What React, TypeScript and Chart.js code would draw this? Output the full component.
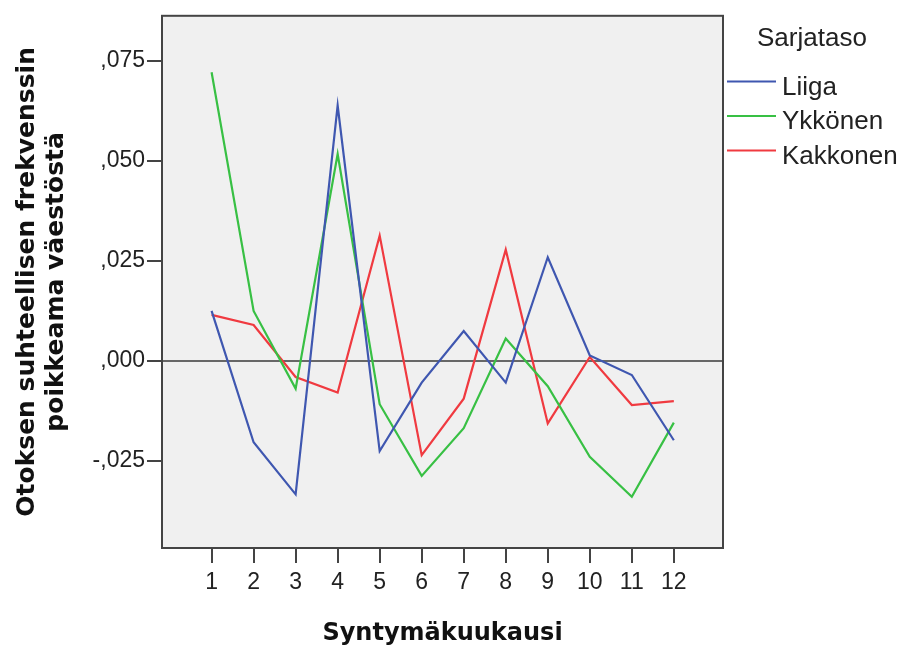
import React, { useEffect, useRef } from "react";
import { Chart, registerables } from "chart.js";

Chart.register(...registerables);

const months = [1, 2, 3, 4, 5, 6, 7, 8, 9, 10, 11, 12];
const liiga = [0.0125, -0.0203, -0.0333, 0.0638, -0.0225, -0.0054, 0.0075, -0.0054, 0.0259, 0.0014, -0.0035, -0.0198];
const ykkonen = [0.0721, 0.0125, -0.0069, 0.0517, -0.0108, -0.0287, -0.0168, 0.0056, -0.0063, -0.0239, -0.0339, -0.0154];
const kakkonen = [0.0115, 0.009, -0.004, -0.0079, 0.0313, -0.0235, -0.0094, 0.0278, -0.0156, 0.001, -0.011, -0.01];
const seriesNames = ["Liiga", "Ykkönen", "Kakkonen"];
const seriesColors = ["#3f57b0", "#38c044", "#f03a40"];
const yTickValues = [-0.025, 0, 0.025, 0.05, 0.075];
const yTickLabels = ["-,025", ",000", ",025", ",050", ",075"];
const legendTitle = "Sarjataso";
const xTitle = "Syntymäkuukausi";
const yTitle = ["Otoksen suhteellisen frekvenssin", "poikkeama väestöstä"];

export default function App() {
  const ref = useRef<HTMLCanvasElement | null>(null);

  useEffect(() => {
    if (!ref.current) return;
    const seriesValues = [liiga, ykkonen, kakkonen];

    const bgPlugin = {
      id: "bgPlugin",
      beforeDraw(chart: any) {
        const { ctx, chartArea: a } = chart;
        ctx.save();
        ctx.fillStyle = "#ffffff";
        ctx.fillRect(0, 0, chart.width, chart.height);
        ctx.fillStyle = "#f0f0f0";
        ctx.fillRect(a.left, a.top, a.right - a.left, a.bottom - a.top);
        ctx.restore();
      },
      beforeDatasetsDraw(chart: any) {
        const { ctx, chartArea: a } = chart;
        const y0 = chart.scales.y.getPixelForValue(0);
        ctx.save();
        ctx.strokeStyle = "#3a3a3a";
        ctx.lineWidth = 1.5;
        ctx.beginPath();
        ctx.moveTo(a.left, y0);
        ctx.lineTo(a.right, y0);
        ctx.stroke();
        ctx.strokeStyle = "#444444";
        ctx.lineWidth = 2;
        ctx.strokeRect(a.left, a.top, a.right - a.left, a.bottom - a.top);
        ctx.restore();
      },
    };

    const legendPlugin = {
      id: "customLegend",
      afterDraw(chart: any) {
        const { ctx } = chart;
        ctx.save();
        ctx.font = '26px "Liberation Sans", Arial, sans-serif';
        ctx.fillStyle = "#222222";
        ctx.textBaseline = "middle";
        ctx.textAlign = "left";
        ctx.fillText(legendTitle, 757, 39);
        seriesNames.forEach((name, i) => {
          const ly = 81.5 + i * 34.5;
          ctx.strokeStyle = seriesColors[i];
          ctx.lineWidth = 2;
          ctx.beginPath();
          ctx.moveTo(727, ly);
          ctx.lineTo(776, ly);
          ctx.stroke();
          ctx.fillStyle = "#222222";
          ctx.fillText(name, 782, ly + 6);
        });
        ctx.restore();
      },
    };

    const chart = new Chart(ref.current, {
      type: "line",
      data: {
        datasets: seriesNames.map((name, i) => ({
          label: name,
          data: months.map((m, j) => ({ x: m, y: seriesValues[i][j] })),
          borderColor: seriesColors[i],
          backgroundColor: seriesColors[i],
          borderWidth: 2.2,
          pointRadius: 0,
          tension: 0,
          fill: false,
        })),
      },
      options: {
        animation: false,
        responsive: false,
        devicePixelRatio: 1,
        layout: { padding: { top: 12, right: 180, left: 0, bottom: 0 } },
        plugins: { legend: { display: false }, tooltip: { enabled: false } },
        scales: {
          x: {
            type: "linear",
            min: -0.18,
            max: 13.17,
            afterBuildTicks: (scale: any) => {
              scale.ticks = months.map((v) => ({ value: v }));
            },
            afterFit: (scale: any) => {
              scale.height = 102;
            },
            ticks: {
              autoSkip: false,
              maxRotation: 0,
              padding: 6,
              color: "#222222",
              font: { family: "Liberation Sans", size: 23 },
              callback: (v: any) => String(v),
            },
            grid: {
              display: true,
              drawOnChartArea: false,
              drawTicks: true,
              tickLength: 15,
              color: "#444444",
              lineWidth: 2,
            },
            border: { display: false },
            title: {
              display: true,
              text: xTitle,
              color: "#111111",
              font: { family: "DejaVu Sans", size: 24, weight: "bold" },
              padding: { top: 0, bottom: 2 },
            },
          },
          y: {
            type: "linear",
            min: -0.0467,
            max: 0.0862,
            afterBuildTicks: (scale: any) => {
              scale.ticks = yTickValues.map((v) => ({ value: v }));
            },
            afterFit: (scale: any) => {
              scale.width = 162;
            },
            ticks: {
              autoSkip: false,
              padding: 2,
              color: "#222222",
              font: { family: "Liberation Sans", size: 23 },
              callback: (v: any) => {
                const k = yTickValues.indexOf(v);
                return k >= 0 ? yTickLabels[k] : "";
              },
            },
            grid: {
              display: true,
              drawOnChartArea: false,
              drawTicks: true,
              tickLength: 15,
              color: "#444444",
              lineWidth: 2,
            },
            border: { display: false },
            title: {
              display: true,
              text: yTitle,
              color: "#111111",
              font: { family: "DejaVu Sans", size: 25, weight: "bold", lineHeight: 1.16 },
              padding: { top: 13, bottom: 0 },
            },
          },
        },
      },
      plugins: [bgPlugin, legendPlugin],
    } as any);

    return () => chart.destroy();
  }, []);

  return (
    <div style={{ position: "absolute", left: 0, top: 0, width: 903, height: 650 }}>
      <canvas ref={ref} width={903} height={650} style={{ display: "block" }} />
    </div>
  );
}
